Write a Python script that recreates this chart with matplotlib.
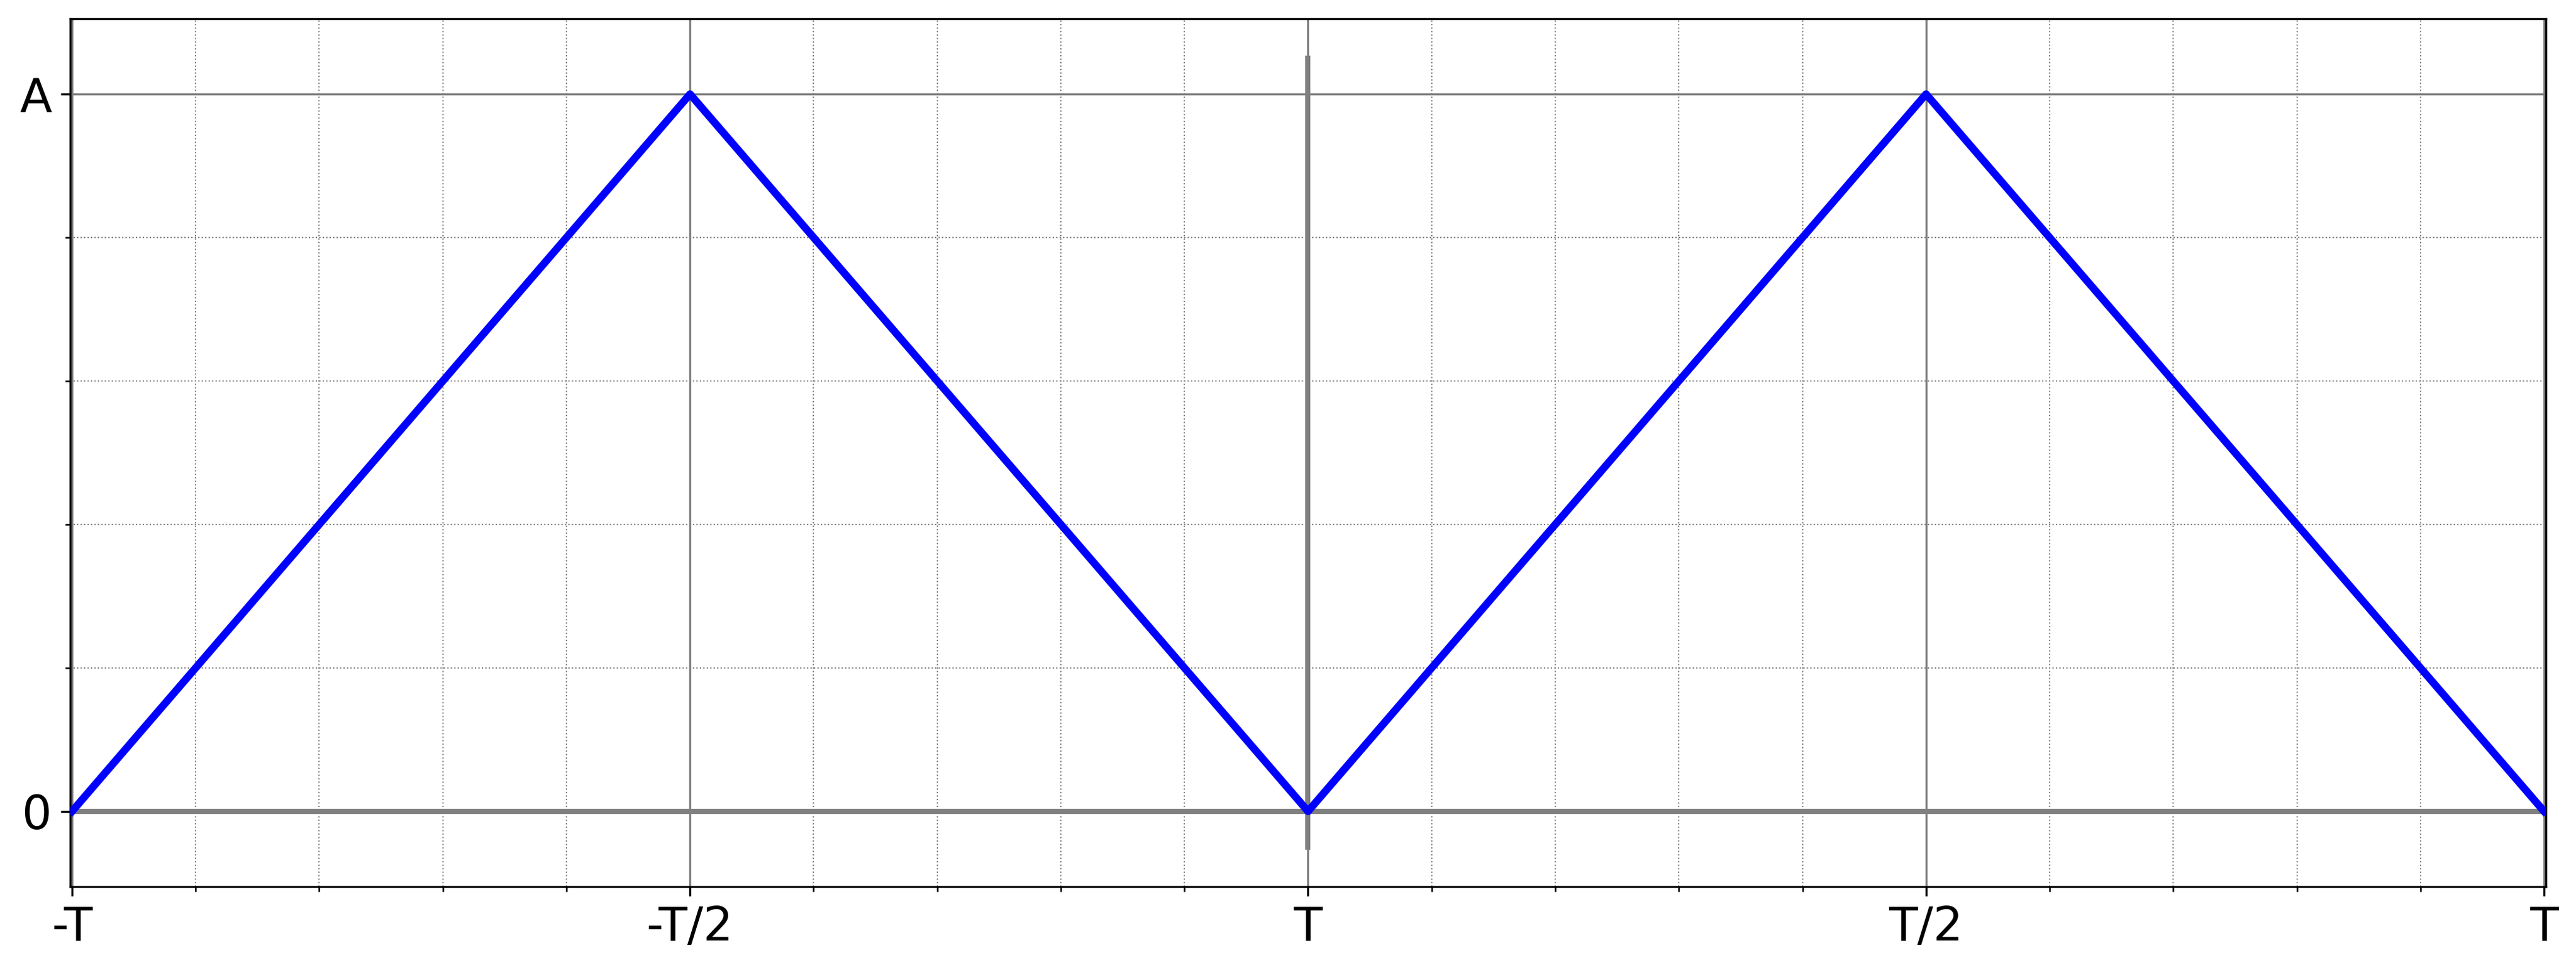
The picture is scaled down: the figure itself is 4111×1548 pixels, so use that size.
import matplotlib
matplotlib.use('Agg')
import matplotlib.pyplot as plt
from matplotlib.ticker import MultipleLocator

# triangle wave over one period, x in units of T
t = [-1.0, -0.5, 0.0, 0.5, 1.0]
y = [0.0, 1.0, 0.0, 1.0, 0.0]

xticks = [-1.0, -0.5, 0.0, 0.5, 1.0]
xlabels = ['-T', '-T/2', 'T', 'T/2', 'T']
yticks = [0.0, 1.0]
ylabels = ['0', 'A']

fig = plt.figure(figsize=(4111 / 300, 1548 / 300), dpi=300)
ax = fig.add_axes([0.02724, 0.08592, 0.96108, 0.89470])

# axes lines
ax.axhline(0, color='gray', lw=2.0, zorder=2)
ax.plot([0, 0], [-0.05, 1.05], color='gray', lw=2.0, zorder=2)

ax.plot(t, y, color='blue', lw=2.9, zorder=3)

ax.set_xlim(-1.0015, 1.0015)
ax.set_ylim(-0.105, 1.105)
ax.set_xticks(xticks)
ax.set_xticklabels(xlabels)
ax.set_yticks(yticks)
ax.set_yticklabels(ylabels)
ax.xaxis.set_minor_locator(MultipleLocator(0.1))
ax.yaxis.set_minor_locator(MultipleLocator(0.2))
ax.tick_params(labelsize=18)

ax.grid(True, which='major', color='gray', lw=0.8)
ax.grid(True, which='minor', color='gray', lw=0.5, linestyle=':')

fig.savefig('out.png', dpi=300)
